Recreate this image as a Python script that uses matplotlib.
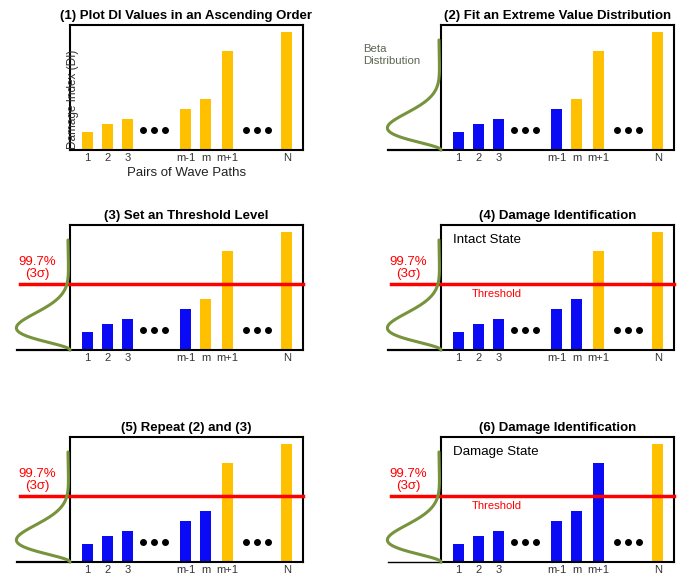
import numpy as np
import matplotlib.pyplot as plt

plt.rcParams['font.family'] = ['Liberation Sans', 'DejaVu Sans']

# bar data (DI values sorted in ascending order)
labels = ['1', '2', '3', 'm-1', 'm', 'm+1', 'N']
positions = [1, 2, 3, 5.9, 6.9, 8, 10.95]
di_values = [18, 26, 31, 41, 51, 99, 118]
dots_left = [3.8, 4.35, 4.9]
dots_right = [8.9, 9.45, 10.0]
dot_level = 20
threshold = 66

titles = ['(1) Plot DI Values in an Ascending Order',
          '(2) Fit an Extreme Value Distribution',
          '(3) Set an Threshold Level',
          '(4) Damage Identification',
          '(5) Repeat (2) and (3)',
          '(6) Damage Identification']
n_blue = [0, 4, 4, 5, 5, 6]
show_beta = [False, True, True, True, True, True]
show_thr = [False, False, True, True, True, True]
state_text = [None, None, None, 'Intact State', None, 'Damage State']

beta_a, beta_b = 3, 9

yellow = '#FFC000'
blue = '#0A0AF5'
green = '#77933C'
red = '#FF0000'

xmin, xmax = 0.15, 11.75
ymax = 125

fig = plt.figure(figsize=(6.88, 5.82), dpi=100)
W, H = 688, 582
boxes = [(70, 25), (441, 25), (70, 225), (441, 225), (70, 437), (441, 437)]

for k, (px, py) in enumerate(boxes):
    ax = fig.add_axes([px / W, 1 - (py + 125) / H, 233 / W, 125 / H])
    colors = [blue if i < n_blue[k] else yellow for i in range(len(di_values))]
    ax.bar(positions, di_values, width=0.55, color=colors, zorder=2)
    ax.plot(dots_left + dots_right, [dot_level] * 6, 'o', color='black', ms=4, zorder=3)
    ax.set_xlim(xmin, xmax)
    ax.set_ylim(0, ymax)
    ax.set_xticks(positions, labels)
    ax.set_yticks([])
    ax.tick_params(axis='x', length=0, labelsize=8, labelcolor='#333333', pad=2)
    for s in ax.spines.values():
        s.set_linewidth(1.5)
    ax.set_title(titles[k], fontsize=9.5, fontweight='bold', pad=4)

    if k == 0:
        ax.set_xlabel('Pairs of Wave Paths', fontsize=9.5, color='#222222', labelpad=3)
        ax.text(xmin + 0.15, 51, 'Damage Index (DI)', rotation=90, ha='center', va='center',
                fontsize=8.5, color='#333333')

    if show_beta[k]:
        base_lw = 1.0 if k == 5 else 1.6
        ax.plot([xmin - 2.65, xmin], [0, 0], color='black', lw=base_lw, clip_on=False)
        h = np.linspace(0, 1, 300)
        pdf = h ** (beta_a - 1) * (1 - h) ** (beta_b - 1)
        pdf = pdf / pdf.max()
        ax.plot(xmin - 0.1 * h - 2.65 * pdf, h * 110, color=green, lw=2.2,
                clip_on=False, zorder=5, solid_capstyle='round')

    if k == 1:
        ax.text(xmin - 3.9, 95, 'Beta\nDistribution', fontsize=8.2, color='#5B6650',
                ha='left', va='center', linespacing=1.3)

    if show_thr[k]:
        ax.plot([xmin - 2.5, xmax], [threshold, threshold], color=red, lw=2.5,
                clip_on=False, zorder=4)
        ax.text(xmin - 1.65, 82, '99.7%\n(3σ)', fontsize=9.5, color=red,
                ha='center', va='center', linespacing=1.0)

    if state_text[k]:
        ax.text(0.75, 110, state_text[k], fontsize=9.6, color='black', va='center')
        ax.text(1.7, 56, 'Threshold', fontsize=8.1, color=red, va='center')

fig.savefig('out.png', dpi=100)
